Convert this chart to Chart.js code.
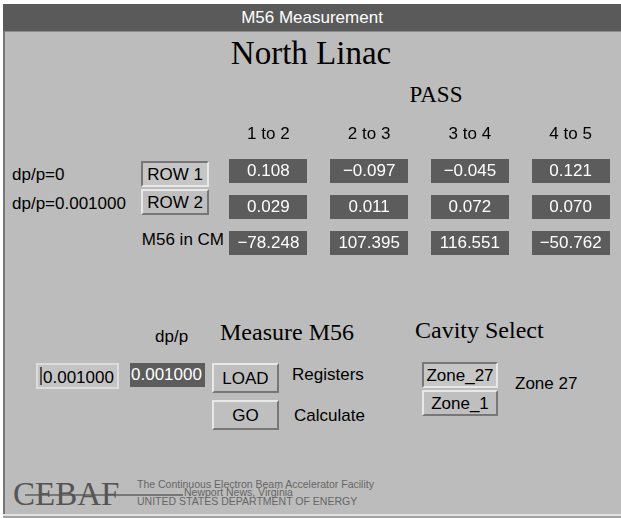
<!DOCTYPE html>
<html>
<head>
<meta charset="utf-8">
<title>M56 Measurement</title>
<script src="https://cdn.jsdelivr.net/npm/chart.js@4/dist/chart.umd.min.js"></script>
<style>
  html, body { margin: 0; padding: 0; background: #fff; }
  #win { position: relative; width: 621px; height: 518px; overflow: hidden; background: #fff;
         font-family: "Liberation Sans", Arial, Helvetica, sans-serif; font-size: 17px; color: #000; }
  #lborder { position: absolute; left: 3px; top: 4px; width: 2px; height: 514px; background: #777; }
  #titlebar { position: absolute; left: 3px; top: 4px; width: 618px; height: 27px; background: #5a5a5a;
              color: #fff; font-size: 17px; line-height: 27px; text-align: center; }
  #panel { position: absolute; left: 5px; top: 31px; width: 616px; height: 483px; background: #bcbcbc;
           border-top: 1px solid #8a8a8a; box-sizing: border-box; }
  #bottom1 { position: absolute; left: 3px; top: 514px; width: 618px; height: 2px; background: #e2e2e2; }
  #bottom2 { position: absolute; left: 3px; top: 516px; width: 618px; height: 2px; background: #a2a2a2; }
  .t { position: absolute; line-height: 1; white-space: nowrap; }
  .serif { font-family: "Liberation Serif", "Times New Roman", serif; font-size: 24px; }
  .btn { position: absolute; box-sizing: border-box; background: #bfbfbf; border: 2px solid;
         border-color: #e8e8e8 #777 #777 #e8e8e8; display: flex; align-items: center;
         justify-content: center; font-size: 17px; line-height: 1; }
  .sunk { border-color: #777 #e8e8e8 #e8e8e8 #777; background: #c6c6c6; }
  #chart { position: absolute; left: 0; top: 0; }
  .small { font-size: 10.5px; color: #666; }
</style>
</head>
<body>
<div id="win">
  <div id="lborder"></div>
  <div id="titlebar">M56 Measurement</div>
  <div id="panel"></div>
  <div id="bottom1"></div>
  <div id="bottom2"></div>

  <div class="t serif" style="left:0;width:622px;text-align:center;top:37px;font-size:33px;">North Linac</div>
  <div class="t serif" style="left:386px;width:100px;text-align:center;top:83px;font-size:23px;">PASS</div>

  <div class="t" style="left:12px;top:166px;">dp/p=0</div>
  <div class="t" style="left:12px;top:195px;">dp/p=0.001000</div>
  <div class="btn sunk" style="left:141px;top:161px;width:68px;height:26px;">ROW 1</div>
  <div class="btn" style="left:141px;top:189px;width:68px;height:26px;">ROW 2</div>
  <div class="t" style="left:100px;width:124px;text-align:right;top:231px;">M56 in CM</div>

  <div class="t" style="left:155px;top:328px;">dp/p</div>
  <div class="t serif" style="left:220px;top:320px;">Measure M56</div>
  <div class="t serif" style="left:415px;top:318px;">Cavity Select</div>

  <div style="position:absolute;left:36px;top:363px;width:83px;height:26px;box-sizing:border-box;
              border:2px solid #dcdcdc;background:#c4c4c4;"></div>
  <div style="position:absolute;left:40px;top:367px;width:2px;height:18px;background:#555;"></div>
  <div class="t" style="left:43px;top:369px;">0.001000</div>
  <div style="position:absolute;left:130px;top:363px;width:75px;height:24px;background:#5c5c5c;"></div>
  <div class="t" style="left:131px;top:366px;color:#fff;">0.001000</div>

  <div class="btn" style="left:212px;top:363px;width:67px;height:30px;">LOAD</div>
  <div class="btn" style="left:212px;top:400px;width:67px;height:30px;">GO</div>
  <div class="t" style="left:292px;top:366px;">Registers</div>
  <div class="t" style="left:294px;top:407px;">Calculate</div>

  <div class="btn sunk" style="left:422px;top:362px;width:76px;height:26px;">Zone_27</div>
  <div class="btn" style="left:422px;top:390px;width:76px;height:26px;">Zone_1</div>
  <div class="t" style="left:515px;top:375px;">Zone 27</div>

  <div style="position:absolute;left:25px;top:494px;width:158px;height:2px;background:#777;"></div>
  <div class="t serif" style="left:13px;top:478px;font-size:33px;color:#555;">CEBAF</div>
  <div class="t small" style="left:137px;top:479px;">The Continuous Electron Beam Accelerator Facility</div>
  <div class="t small" style="left:184px;top:487px;">Newport News, Virginia</div>
  <div class="t small" style="left:137px;top:496px;">UNITED STATES DEPARTMENT OF ENERGY</div>

  <canvas id="chart" width="621" height="518"></canvas>
</div>

<script>
// pass columns and table rows
const passes = ['1 to 2', '2 to 3', '3 to 4', '4 to 5'];
const rowNames = ['ROW 1', 'ROW 2', 'M56 in CM'];

// values
const row1 = [0.108, -0.097, -0.045, 0.121];
const row2 = [0.029, 0.011, 0.072, 0.070];
const m56cm = [-78.248, 107.395, 116.551, -50.762];

const rowValues = [row1, row2, m56cm];

const points = [];
rowValues.forEach((vals, r) => {
  vals.forEach((v, c) => {
    points.push({ x: passes[c], y: rowNames[r], v: v });
  });
});

const fmt = (v) => v.toFixed(3).replace('-', '\u2212');

// draws each value as a dark readout box at the point's scale position
const cellPlugin = {
  id: 'cells',
  afterDatasetsDraw(chart) {
    const ctx = chart.ctx;
    const meta = chart.getDatasetMeta(0);
    const ds = chart.data.datasets[0].data;
    ctx.save();
    meta.data.forEach((pt, i) => {
      ctx.fillStyle = '#5c5c5c';
      ctx.fillRect(Math.round(pt.x - 39), Math.round(pt.y - 12), 78, 24);
      ctx.fillStyle = '#ffffff';
      ctx.font = '17px "Liberation Sans", Arial, sans-serif';
      ctx.textAlign = 'center';
      ctx.textBaseline = 'alphabetic';
      ctx.fillText(fmt(ds[i].v), pt.x, pt.y + 5);
    });
    ctx.restore();
  }
};

new Chart(document.getElementById('chart').getContext('2d'), {
  type: 'line',
  data: {
    labels: passes,
    datasets: [{
      data: points,
      showLine: false,
      pointRadius: 0,
      pointHoverRadius: 0,
    }],
  },
  options: {
    responsive: false,
    animation: false,
    events: [],
    layout: {
      padding: { left: 218, right: 0, top: 116, bottom: 257 },
    },
    scales: {
      x: {
        type: 'category',
        position: 'top',
        offset: true,
        grid: { display: false, drawTicks: false },
        border: { display: false },
        ticks: {
          color: '#000',
          padding: 8,
          font: { family: '"Liberation Sans", Arial, sans-serif', size: 17 },
        },
      },
      y: {
        type: 'category',
        labels: rowNames,
        offset: true,
        display: false,
      },
    },
    plugins: {
      legend: { display: false },
      tooltip: { enabled: false },
    },
  },
  plugins: [cellPlugin],
});
</script>
</body>
</html>
